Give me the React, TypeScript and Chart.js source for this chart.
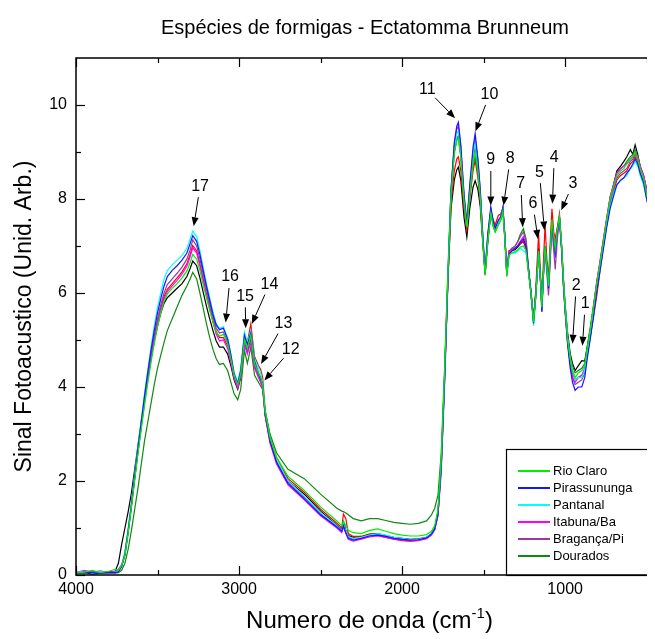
import React, { useEffect, useRef } from 'react';
import { Chart, registerables } from 'chart.js';

Chart.register(...registerables);

// Wavenumber grid (cm^-1), descending
const wavenumbers = [
  4000, 3950, 3900, 3850, 3800, 3760, 3740, 3720, 3700, 3680,
  3660, 3640, 3620, 3600, 3580, 3560, 3540, 3520, 3500, 3480,
  3460, 3440, 3410, 3380, 3350, 3320, 3300, 3284, 3260, 3240,
  3220, 3200, 3180, 3160, 3140, 3120, 3096, 3070, 3050, 3030,
  3008, 2990, 2967, 2949, 2928, 2905, 2881, 2868, 2855, 2840,
  2810, 2770, 2700, 2600, 2500, 2400, 2370, 2360, 2345, 2330,
  2300, 2250, 2200, 2150, 2100, 2050, 2000, 1950, 1900, 1850,
  1820, 1800, 1780, 1760, 1740, 1720, 1700, 1680, 1665, 1655,
  1640, 1620, 1603, 1585, 1565, 1552, 1535, 1521, 1505, 1491,
  1475, 1456, 1440, 1429, 1410, 1395, 1382, 1370, 1358, 1345,
  1330, 1307, 1290, 1275, 1256, 1240, 1225, 1210, 1194, 1180,
  1163, 1150, 1143, 1133, 1123, 1112, 1102, 1090, 1081, 1070,
  1061, 1048, 1035, 1022, 1011, 1000, 985, 969, 955, 939,
  920, 898, 880, 865, 847, 826, 806, 785, 765, 745,
  724, 700, 683, 660, 640, 622, 600, 585, 571, 555,
  540, 519, 500, 479, 460, 440, 420, 400,
];

const rioClaro = [
  0.04, 0.06, 0.1, 0.05, 0.08, 0.12, 0.1, 0.2, 0.42, 0.9,
  1.45, 2.02, 2.58, 3.1, 3.6, 4.08, 4.52, 4.92, 5.28, 5.58,
  5.82, 5.98, 6.1, 6.2, 6.32, 6.47, 6.65, 6.82, 6.72, 6.48,
  6.18, 5.9, 5.63, 5.38, 5.16, 5.08, 5.12, 4.92, 4.6, 4.25,
  4.05, 4.28, 5.0, 4.82, 5.1, 4.5, 4.3, 4.2, 4.05, 3.48,
  2.92, 2.5, 2.1, 1.8, 1.45, 1.15, 1.05, 1.15, 1.05, 0.95,
  0.9, 0.88, 0.95, 0.98, 0.93, 0.88, 0.85, 0.83, 0.83, 0.86,
  0.93, 1.05, 1.4, 2.45, 4.25, 6.3, 8.1, 8.95, 9.25, 9.3,
  8.9, 7.95, 7.4, 8.1, 8.75, 9.0, 8.6, 8.05, 7.1, 6.4,
  7.1, 7.7, 7.4, 7.3, 7.45, 7.55, 7.75, 7.15, 6.38, 6.8,
  6.85, 6.88, 6.92, 6.98, 7.0, 6.9, 6.45, 6.0, 5.38, 5.95,
  6.9, 6.2, 5.7, 6.45, 7.0, 6.55, 6.15, 7.0, 7.55, 7.2,
  6.95, 7.35, 7.62, 7.0, 6.25, 5.65, 5.0, 4.6, 4.35, 4.2,
  4.3, 4.35, 4.45, 4.8, 5.2, 5.7, 6.2, 6.65, 7.1, 7.55,
  8.0, 8.3, 8.5, 8.6, 8.65, 8.75, 8.85, 8.9, 9.0, 8.85,
  8.65, 8.45, 8.1, 7.8, 7.55, 7.5, 7.55, 7.65,
];

const pirassununga = [
  0.03, 0.06, 0.05, 0.04, 0.06, 0.05, 0.07, 0.18, 0.45, 0.95,
  1.5, 2.1, 2.7, 3.25, 3.8, 4.3, 4.78, 5.2, 5.58, 5.88,
  6.15, 6.35, 6.48, 6.58, 6.7, 6.85, 7.05, 7.22, 7.1, 6.82,
  6.48, 6.15, 5.85, 5.55, 5.32, 5.22, 5.25, 5.02, 4.68, 4.28,
  4.07, 4.35, 5.1, 4.9, 5.15, 4.55, 4.3, 4.2, 4.05, 3.42,
  2.85, 2.4, 1.95, 1.62, 1.28, 1.02, 0.93, 1.05, 0.9, 0.78,
  0.74, 0.78, 0.83, 0.85, 0.82, 0.78, 0.76, 0.74, 0.75, 0.79,
  0.87, 0.98, 1.3, 2.3, 4.1, 6.2, 8.2, 9.2, 9.55, 9.63,
  9.15, 8.1, 7.5, 8.3, 9.1, 9.39, 8.85, 8.2, 7.2, 6.45,
  7.25, 7.83, 7.5, 7.38, 7.55, 7.62, 7.82, 7.2, 6.42, 6.82,
  6.88, 6.95, 7.0, 7.08, 7.15, 7.0, 6.5, 6.0, 5.35, 5.95,
  6.9, 6.2, 5.6, 6.45, 7.0, 6.55, 6.1, 6.95, 7.5, 7.15,
  6.85, 7.3, 7.6, 6.95, 6.2, 5.6, 4.9, 4.4, 4.1, 3.93,
  4.0, 4.0, 4.2, 4.6, 5.0, 5.5, 6.05, 6.5, 6.95, 7.4,
  7.8, 8.1, 8.3, 8.4, 8.45, 8.55, 8.65, 8.75, 8.85, 8.75,
  8.55, 8.35, 8.0, 7.65, 7.3, 7.15, 7.1, 7.2,
];

const pantanal = [
  0.05, 0.08, 0.04, 0.07, 0.05, 0.06, 0.08, 0.2, 0.5, 1.0,
  1.55, 2.15, 2.75, 3.3, 3.85, 4.35, 4.85, 5.3, 5.7, 6.0,
  6.3, 6.48, 6.6, 6.7, 6.8, 6.95, 7.15, 7.32, 7.2, 6.9,
  6.55, 6.2, 5.9, 5.6, 5.35, 5.25, 5.28, 5.05, 4.7, 4.3,
  4.1, 4.4, 5.17, 4.95, 5.2, 4.6, 4.4, 4.3, 4.1, 3.45,
  2.9, 2.45, 2.0, 1.68, 1.33, 1.05, 0.95, 1.08, 0.95, 0.82,
  0.78, 0.8, 0.85, 0.88, 0.85, 0.8, 0.78, 0.75, 0.76, 0.8,
  0.88, 1.0, 1.35, 2.4, 4.2, 6.3, 8.2, 9.1, 9.38, 9.45,
  9.0, 8.0, 7.45, 8.2, 8.95, 9.2, 8.7, 8.15, 7.2, 6.45,
  7.2, 7.75, 7.45, 7.35, 7.5, 7.6, 7.8, 7.2, 6.4, 6.8,
  6.85, 6.85, 6.9, 6.95, 6.9, 6.85, 6.45, 6.0, 5.3, 5.9,
  6.85, 6.2, 5.65, 6.4, 6.95, 6.55, 6.1, 6.9, 7.45, 7.2,
  6.9, 7.3, 7.6, 7.0, 6.25, 5.7, 5.05, 4.6, 4.35, 4.15,
  4.2, 4.2, 4.35, 4.7, 5.1, 5.6, 6.1, 6.55, 7.0, 7.45,
  7.85, 8.15, 8.3, 8.4, 8.45, 8.5, 8.65, 8.7, 8.8, 8.7,
  8.5, 8.3, 8.0, 7.7, 7.45, 7.35, 7.4, 7.5,
];

const itabuna = [
  0.05, 0.1, 0.06, 0.09, 0.05, 0.08, 0.12, 0.22, 0.45, 0.92,
  1.48, 2.05, 2.62, 3.15, 3.66, 4.15, 4.6, 5.0, 5.34, 5.63,
  5.87, 6.03, 6.15, 6.27, 6.4, 6.57, 6.77, 6.96, 6.85, 6.58,
  6.26, 5.95, 5.66, 5.38, 5.12, 4.98, 5.0, 4.82, 4.52, 4.18,
  3.98, 4.22, 4.9, 4.7, 4.95, 4.4, 4.2, 4.1, 3.95, 3.38,
  2.8, 2.36, 1.92, 1.6, 1.26, 1.0, 0.9, 1.02, 0.88, 0.76,
  0.72, 0.76, 0.81, 0.83, 0.8, 0.76, 0.74, 0.72, 0.73, 0.77,
  0.85, 0.96, 1.25, 2.2, 4.0, 6.1, 8.15, 9.15, 9.48, 9.55,
  9.1, 8.05, 7.45, 8.25, 9.0, 9.3, 8.8, 8.2, 7.2, 6.45,
  7.2, 7.8, 7.5, 7.38, 7.52, 7.62, 7.82, 7.2, 6.42, 6.85,
  6.9, 6.95, 7.02, 7.1, 7.2, 7.05, 6.5, 6.0, 5.4, 5.95,
  6.9, 6.2, 5.65, 6.4, 6.95, 6.5, 6.05, 6.9, 7.45, 7.05,
  6.75, 7.25, 7.6, 6.95, 6.2, 5.6, 4.95, 4.5, 4.2, 4.1,
  4.2, 4.25, 4.4, 4.75, 5.15, 5.7, 6.25, 6.7, 7.15, 7.6,
  8.05, 8.35, 8.55, 8.65, 8.7, 8.75, 8.85, 8.9, 9.0, 8.9,
  8.7, 8.5, 8.2, 7.85, 7.55, 7.45, 7.5, 7.6,
];

const braganca = [
  0.06, 0.04, 0.07, 0.05, 0.03, 0.06, 0.09, 0.2, 0.45, 0.95,
  1.5, 2.1, 2.68, 3.22, 3.75, 4.25, 4.7, 5.1, 5.45, 5.75,
  6.0, 6.18, 6.3, 6.42, 6.55, 6.72, 6.92, 7.13, 7.0, 6.72,
  6.4, 6.08, 5.78, 5.5, 5.25, 5.15, 5.17, 4.95, 4.62, 4.22,
  4.0, 4.3, 5.0, 4.78, 5.08, 4.5, 4.22, 4.12, 4.0, 3.4,
  2.85, 2.42, 1.98, 1.65, 1.3, 1.03, 0.94, 1.08, 0.92, 0.8,
  0.76, 0.79, 0.84, 0.86, 0.83, 0.79, 0.77, 0.75, 0.76, 0.8,
  0.88, 1.0, 1.3, 2.3, 4.1, 6.2, 8.1, 9.0, 9.28, 9.35,
  8.95, 7.95, 7.4, 8.15, 8.85, 9.1, 8.65, 8.1, 7.15, 6.4,
  7.15, 7.75, 7.45, 7.35, 7.5, 7.6, 7.8, 7.2, 6.4, 6.85,
  6.95, 7.0, 7.1, 7.2, 7.3, 7.1, 6.5, 6.0, 5.4, 5.95,
  6.85, 6.15, 5.6, 6.35, 6.9, 6.4, 5.95, 6.8, 7.4, 6.9,
  6.5, 7.15, 7.55, 6.9, 6.15, 5.6, 4.95, 4.5, 4.2, 4.05,
  4.1, 4.15, 4.3, 4.65, 5.05, 5.6, 6.15, 6.6, 7.05, 7.5,
  7.95, 8.25, 8.45, 8.55, 8.6, 8.65, 8.8, 8.85, 8.95, 8.85,
  8.65, 8.45, 8.15, 7.8, 7.5, 7.4, 7.45, 7.55,
];

const dourados = [
  0.05, 0.03, 0.06, 0.04, 0.05, 0.04, 0.05, 0.1, 0.25, 0.55,
  0.95, 1.4, 1.85, 2.35, 2.85, 3.25, 3.65, 4.05, 4.4, 4.68,
  4.95, 5.2, 5.45, 5.7, 5.95, 6.15, 6.3, 6.44, 6.3, 6.0,
  5.68, 5.35, 5.05, 4.8, 4.6, 4.48, 4.5, 4.35, 4.1, 3.85,
  3.73, 3.95, 4.78, 4.5, 4.85, 4.25, 4.1, 4.02, 3.95, 3.5,
  3.0, 2.6, 2.25, 2.05, 1.72, 1.42, 1.36, 1.35, 1.32, 1.28,
  1.2, 1.15, 1.2, 1.2, 1.16, 1.12, 1.1, 1.08, 1.1, 1.15,
  1.28, 1.42, 1.7, 2.6, 4.35, 6.4, 8.2, 9.0, 9.25, 9.3,
  8.9, 7.95, 7.4, 8.1, 8.7, 8.9, 8.55, 8.05, 7.1, 6.38,
  7.05, 7.7, 7.4, 7.3, 7.45, 7.55, 7.75, 7.15, 6.35, 6.8,
  6.9, 7.0, 7.1, 7.25, 7.37, 7.15, 6.55, 6.05, 5.45, 6.0,
  6.9, 6.2, 5.7, 6.45, 7.0, 6.55, 6.15, 6.95, 7.5, 7.15,
  6.9, 7.3, 7.62, 7.0, 6.3, 5.7, 5.05, 4.65, 4.45, 4.3,
  4.35, 4.4, 4.5, 4.85, 5.25, 5.75, 6.25, 6.7, 7.15, 7.6,
  8.05, 8.35, 8.55, 8.65, 8.7, 8.8, 8.9, 8.95, 9.05, 8.9,
  8.7, 8.45, 8.15, 7.85, 7.55, 7.5, 7.5, 7.6,
];

const extraBlack = [
  0.03, 0.05, 0.02, 0.04, 0.06, 0.08, 0.25, 0.65, 1.0, 1.35,
  1.75, 2.25, 2.75, 3.25, 3.72, 4.18, 4.6, 4.98, 5.3, 5.58,
  5.78, 5.9, 6.0, 6.1, 6.2, 6.35, 6.52, 6.68, 6.58, 6.32,
  6.02, 5.72, 5.45, 5.2, 4.98, 4.85, 4.85, 4.7, 4.45, 4.15,
  3.95, 4.2, 4.95, 4.75, 5.05, 4.45, 4.25, 4.15, 4.02, 3.42,
  2.86, 2.42, 2.0, 1.72, 1.36, 1.06, 0.97, 1.12, 0.96, 0.84,
  0.8, 0.82, 0.87, 0.88, 0.84, 0.8, 0.78, 0.76, 0.77, 0.8,
  0.88, 1.0, 1.35, 2.4, 4.2, 6.2, 7.8, 8.4, 8.62, 8.68,
  8.4, 7.6, 7.19, 7.8, 8.25, 8.39, 8.2, 7.85, 7.05, 6.45,
  7.1, 7.72, 7.45, 7.35, 7.5, 7.6, 7.78, 7.2, 6.45, 6.85,
  6.9, 6.92, 6.98, 7.05, 7.1, 6.95, 6.5, 6.05, 5.45, 6.0,
  6.95, 6.25, 5.75, 6.45, 7.0, 6.6, 6.2, 7.0, 7.55, 7.2,
  7.0, 7.35, 7.6, 7.0, 6.3, 5.75, 5.15, 4.71, 4.5, 4.35,
  4.45, 4.56, 4.55, 4.85, 5.2, 5.7, 6.2, 6.65, 7.1, 7.55,
  8.0, 8.35, 8.6, 8.7, 8.8, 8.9, 9.05, 8.95, 9.15, 8.95,
  8.7, 8.5, 8.2, 7.9, 7.6, 7.55, 7.6, 7.7,
];

const extraRed = [
  0.04, 0.07, 0.05, 0.06, 0.04, 0.05, 0.08, 0.18, 0.42, 0.9,
  1.45, 2.05, 2.62, 3.15, 3.68, 4.18, 4.62, 5.02, 5.38, 5.68,
  5.92, 6.08, 6.2, 6.32, 6.45, 6.62, 6.82, 7.01, 6.9, 6.62,
  6.3, 5.98, 5.7, 5.42, 5.18, 5.05, 5.05, 4.88, 4.58, 4.25,
  4.05, 4.32, 5.05, 4.95, 5.34, 4.65, 4.45, 4.38, 4.2, 3.5,
  2.92, 2.5, 2.05, 1.76, 1.4, 1.1, 1.0, 1.3, 1.2, 0.88,
  0.82, 0.82, 0.86, 0.85, 0.8, 0.76, 0.73, 0.72, 0.74, 0.78,
  0.86, 0.98, 1.3, 2.35, 4.15, 6.2, 7.9, 8.6, 8.85, 8.9,
  8.6, 7.8, 7.35, 8.0, 8.6, 8.82, 8.45, 7.95, 7.1, 6.4,
  7.1, 7.7, 7.55, 7.45, 7.65, 7.68, 7.8, 7.25, 6.45, 6.9,
  6.92, 6.95, 7.0, 7.05, 7.1, 6.95, 6.45, 6.0, 5.4, 6.1,
  7.26, 6.3, 5.7, 6.7, 7.44, 6.7, 6.3, 7.2, 7.79, 7.3,
  7.15, 7.4, 7.69, 7.05, 6.3, 5.65, 5.0, 4.55, 4.3, 4.15,
  4.2, 4.25, 4.35, 4.7, 5.05, 5.5, 5.95, 6.5, 7.0, 7.45,
  7.9, 8.2, 8.4, 8.5, 8.55, 8.6, 8.75, 8.8, 8.9, 8.8,
  8.55, 8.35, 8.0, 7.7, 7.4, 7.3, 7.35, 7.45,
];

// Axis ticks
const xMajorTicks = [4000, 3000, 2000, 1000];
const xMinorTicks = [3500, 2500, 1500, 500];
const yMajorTicks = [0, 2, 4, 6, 8, 10];
const yMinorTicks = [1, 3, 5, 7, 9];

// Peak annotations (data coordinates)
const peakLabels = ['17', '16', '15', '14', '13', '12', '11', '10', '9', '8', '7', '6', '5', '4', '3', '2', '1'];
const peakTextX = [3239, 3055, 2963, 2814, 2728, 2683, 1845, 1464, 1456, 1337, 1272, 1198, 1158, 1067, 953, 932, 877];
const peakTextY = [8.27, 6.34, 5.93, 6.18, 5.34, 4.79, 10.32, 10.22, 8.83, 8.86, 8.32, 7.9, 8.57, 8.89, 8.32, 6.16, 5.77];
const peakTipX = [3278, 3082, 2959, 2922, 2865, 2845, 1675, 1550, 1456, 1378, 1260, 1167, 1127, 1078, 1024, 955, 894];
const peakTipY = [7.42, 5.37, 5.25, 5.34, 4.49, 4.14, 9.72, 9.44, 7.86, 7.86, 7.4, 7.15, 7.33, 7.9, 7.76, 4.92, 4.88];

const FONT = '"Liberation Sans", Arial, Helvetica, sans-serif';

// Series: drawn order (first = on top)
const seriesList = [
  { name: 'Rio Claro', values: rioClaro, color: '#00ee00', legend: true },
  { name: 'Pirassununga', values: pirassununga, color: '#1515ff', legend: true },
  { name: 'Pantanal', values: pantanal, color: '#00ffff', legend: true },
  { name: 'Itabuna/Ba', values: itabuna, color: '#ff00ff', legend: true },
  { name: 'Bragança/Pi', values: braganca, color: '#9a3a9a', legend: true },
  { name: 'Dourados', values: dourados, color: '#118811', legend: true },
  { name: '', values: extraRed, color: '#ff0000', legend: false },
  { name: '', values: extraBlack, color: '#000000', legend: false },
];

function drawArrow(ctx: CanvasRenderingContext2D, tx: number, ty: number, px: number, py: number) {
  const dx = px - tx;
  const dy = py - ty;
  const len = Math.hypot(dx, dy);
  const ux = dx / len;
  const uy = dy / len;
  const sx = tx + ux * 11;
  const sy = ty + uy * 11;
  const head = 9;
  const hw = 3.5;
  const bx = px - ux * head;
  const by = py - uy * head;
  ctx.beginPath();
  ctx.moveTo(sx, sy);
  ctx.lineTo(bx, by);
  ctx.stroke();
  ctx.beginPath();
  ctx.moveTo(px, py);
  ctx.lineTo(bx - uy * hw, by + ux * hw);
  ctx.lineTo(bx + uy * hw, by - ux * hw);
  ctx.closePath();
  ctx.fill();
}

const decorPlugin = {
  id: 'decor',
  afterDatasetsDraw(chart: any) {
    const { ctx, chartArea: a, scales } = chart;
    const xs = scales.x;
    const ys = scales.y;
    ctx.save();
    ctx.strokeStyle = '#000';
    ctx.fillStyle = '#000';

    // ticks (inward, all four sides)
    ctx.lineWidth = 1.2;
    const tick = (x0: number, y0: number, x1: number, y1: number) => {
      ctx.beginPath();
      ctx.moveTo(x0, y0);
      ctx.lineTo(x1, y1);
      ctx.stroke();
    };
    xMajorTicks.forEach((v) => {
      const p = Math.round(xs.getPixelForValue(v)) + 0.5;
      tick(p, a.bottom, p, a.bottom - 9);
      tick(p, a.top, p, a.top + 9);
    });
    xMinorTicks.forEach((v) => {
      const p = Math.round(xs.getPixelForValue(v)) + 0.5;
      tick(p, a.bottom, p, a.bottom - 5);
      tick(p, a.top, p, a.top + 5);
    });
    yMajorTicks.forEach((v) => {
      const p = Math.round(ys.getPixelForValue(v)) + 0.5;
      tick(a.left, p, a.left + 9, p);
      tick(a.right, p, a.right - 9, p);
    });
    yMinorTicks.forEach((v) => {
      const p = Math.round(ys.getPixelForValue(v)) + 0.5;
      tick(a.left, p, a.left + 5, p);
      tick(a.right, p, a.right - 5, p);
    });

    // annotations
    ctx.lineWidth = 1;
    ctx.font = `16px ${FONT}`;
    ctx.textAlign = 'center';
    ctx.textBaseline = 'middle';
    peakLabels.forEach((lab, i) => {
      const tx = xs.getPixelForValue(peakTextX[i]);
      const ty = ys.getPixelForValue(peakTextY[i]);
      const px = xs.getPixelForValue(peakTipX[i]);
      const py = ys.getPixelForValue(peakTipY[i]);
      ctx.fillText(lab, tx, ty);
      drawArrow(ctx, tx, ty, px, py);
    });

    // legend box
    const bl = a.right - 157;
    const br = a.right - 9;
    const bt = a.bottom - 126;
    ctx.fillStyle = '#fff';
    ctx.fillRect(bl, bt, br - bl, a.bottom - bt);
    ctx.strokeStyle = '#000';
    ctx.lineWidth = 1.2;
    ctx.strokeRect(bl + 0.5, bt + 0.5, br - bl, a.bottom - bt);
    ctx.font = `13px ${FONT}`;
    ctx.textAlign = 'left';
    ctx.textBaseline = 'middle';
    seriesList.filter((s) => s.legend).forEach((s, i) => {
      const y = bt + 22 + i * 17;
      ctx.strokeStyle = s.color;
      ctx.lineWidth = 2;
      ctx.beginPath();
      ctx.moveTo(bl + 12, y);
      ctx.lineTo(bl + 44, y);
      ctx.stroke();
      ctx.fillStyle = '#000';
      ctx.fillText(s.name, bl + 47, y);
    });

    // frame
    ctx.strokeStyle = '#000';
    ctx.lineWidth = 1.5;
    ctx.strokeRect(a.left, a.top, a.right - a.left, a.bottom - a.top);

    // main title
    ctx.fillStyle = '#000';
    ctx.font = `20px ${FONT}`;
    ctx.textAlign = 'center';
    ctx.textBaseline = 'middle';
    ctx.fillText('Espécies de formigas - Ectatomma Brunneum', 357, 20);

    // y title
    ctx.save();
    ctx.translate(17, (a.top + a.bottom) / 2);
    ctx.rotate(-Math.PI / 2);
    ctx.font = `23px ${FONT}`;
    ctx.textAlign = 'center';
    ctx.textBaseline = 'middle';
    ctx.fillText('Sinal Fotoacustico (Unid. Arb.)', 0, 0);
    ctx.restore();

    // x title with superscript
    const main = 'Numero de onda (cm';
    const sup = '-1';
    const close = ')';
    ctx.textAlign = 'left';
    ctx.textBaseline = 'alphabetic';
    ctx.font = `24px ${FONT}`;
    const w1 = ctx.measureText(main).width;
    const w3 = ctx.measureText(close).width;
    ctx.font = `15px ${FONT}`;
    const w2 = ctx.measureText(sup).width;
    const cx = (a.left + a.right) / 2;
    const base = 620;
    let x = cx - (w1 + w2 + w3) / 2;
    ctx.font = `24px ${FONT}`;
    ctx.fillText(main, x, base);
    x += w1;
    ctx.font = `15px ${FONT}`;
    ctx.fillText(sup, x, base - 10);
    x += w2;
    ctx.font = `24px ${FONT}`;
    ctx.fillText(close, x, base);

    ctx.restore();
  },
};

export default function App() {
  const ref = useRef<HTMLCanvasElement>(null);
  useEffect(() => {
    document.documentElement.style.overflow = 'hidden';
    const canvas = ref.current;
    if (!canvas) return;
    const chart = new Chart(canvas, {
      type: 'line',
      data: {
        datasets: seriesList.map((s) => ({
          label: s.name,
          data: wavenumbers.map((x, i) => ({ x, y: s.values[i] })),
          borderColor: s.color,
          backgroundColor: s.color,
          borderWidth: 1.2,
          pointRadius: 0,
          fill: false,
          tension: 0,
        })),
      },
      options: {
        animation: false,
        responsive: false,
        maintainAspectRatio: false,
        layout: { padding: { top: 50, right: 25, left: 0, bottom: 0 } },
        plugins: {
          legend: { display: false },
          tooltip: { enabled: false },
          title: { display: false },
        },
        scales: {
          x: {
            type: 'linear',
            reverse: true,
            min: 400,
            max: 4000,
            grid: { display: false, drawTicks: false },
            border: { display: false },
            afterBuildTicks: (s: any) => {
              s.ticks = xMajorTicks.map((v) => ({ value: v }));
            },
            afterFit: (s: any) => {
              s.height = 64;
            },
            ticks: {
              padding: 5,
              color: '#000',
              font: { family: FONT, size: 16 },
              maxRotation: 0,
              autoSkip: false,
              callback: (v: any) => String(v),
            },
          },
          y: {
            type: 'linear',
            min: 0,
            max: 11,
            grid: { display: false, drawTicks: false },
            border: { display: false },
            afterBuildTicks: (s: any) => {
              s.ticks = yMajorTicks.map((v) => ({ value: v }));
            },
            afterFit: (s: any) => {
              s.width = 68;
            },
            ticks: {
              padding: 9,
              color: '#000',
              font: { family: FONT, size: 16 },
              autoSkip: false,
              callback: (v: any) => String(v),
            },
          },
        },
      },
      plugins: [decorPlugin],
    } as any);
    return () => chart.destroy();
  }, []);
  return (
    <div style={{ width: 647, height: 631, overflow: 'hidden' }}>
      <canvas ref={ref} width={680} height={631} style={{ display: 'block' }} />
    </div>
  );
}
